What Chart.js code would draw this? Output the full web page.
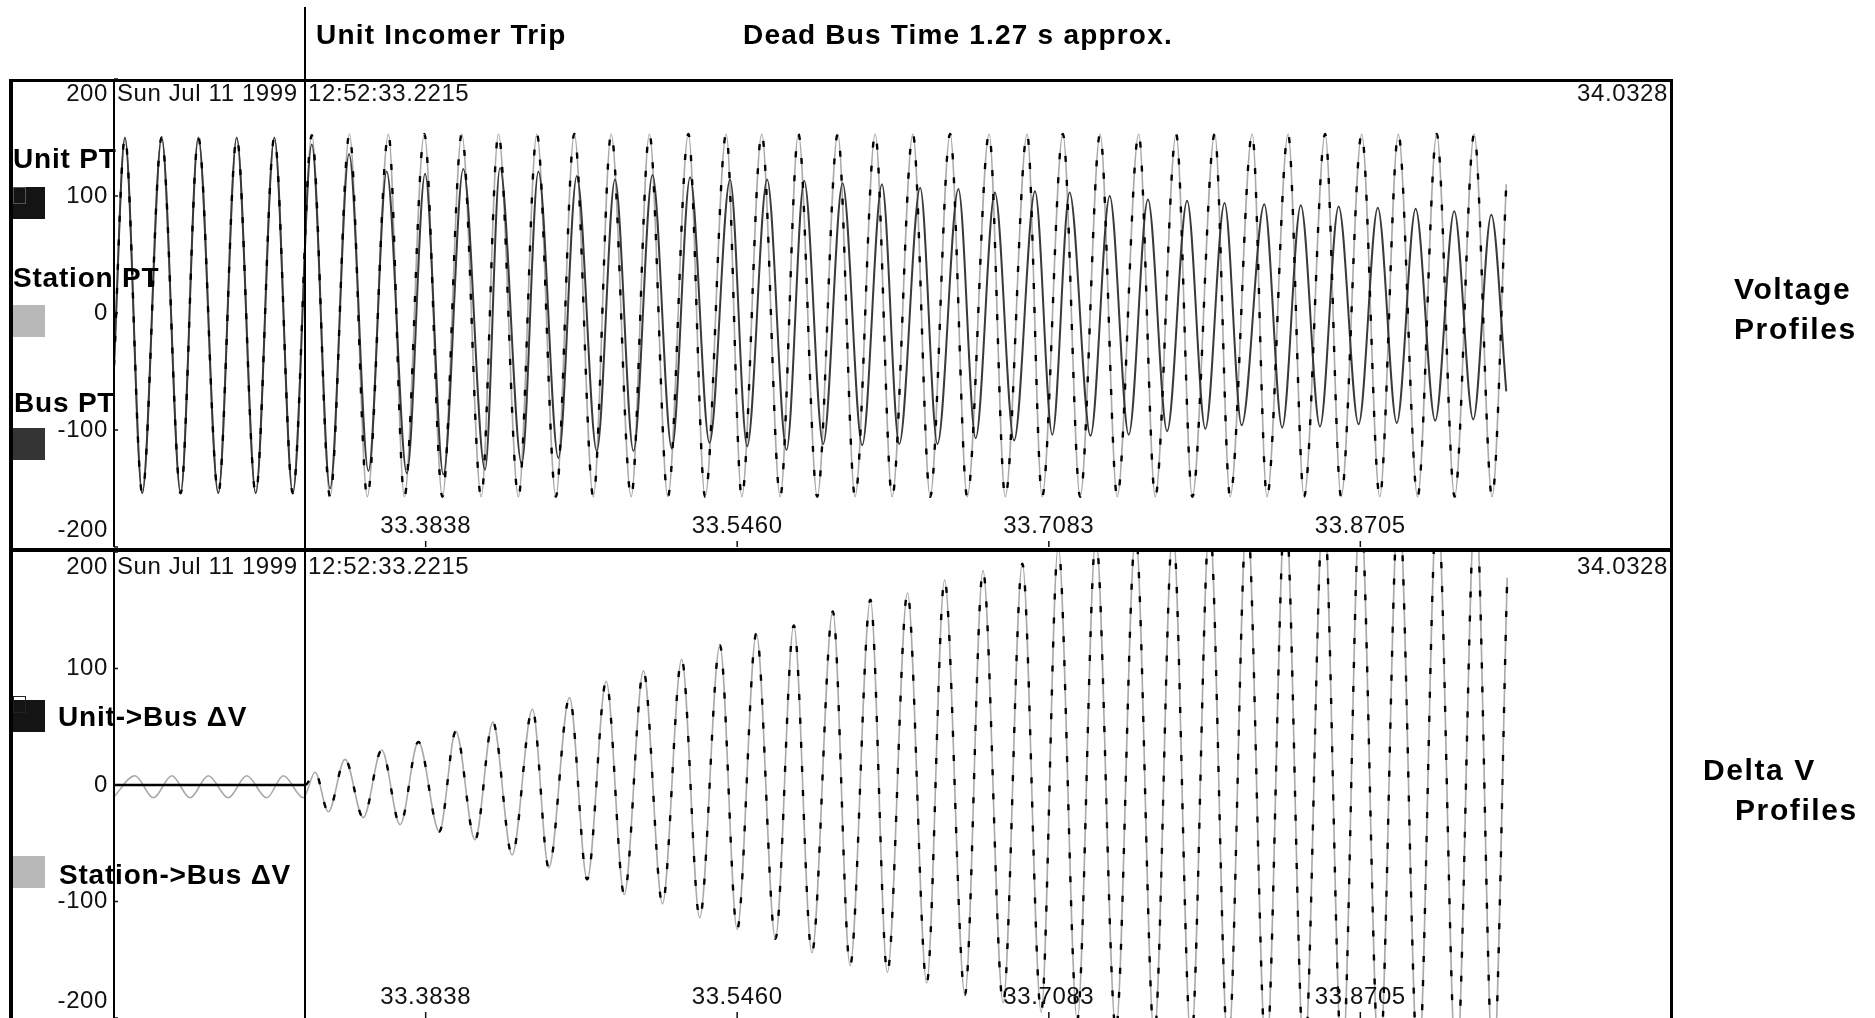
<!DOCTYPE html>
<html>
<head>
<meta charset="utf-8">
<title>Unit Incomer Trip - Dead Bus Time</title>
<script src="https://cdn.jsdelivr.net/npm/chart.js@4.4.1/dist/chart.umd.min.js"></script>
<style>
  body { margin: 0; background: #fff; }
  #page { position: relative; width: 1875px; height: 1018px; overflow: hidden; background: #fff; }
  canvas { position: absolute; left: 0; }
  #voltageChart { top: 0; }
  #deltaChart { top: 550px; }
  .lbl { position: absolute; font: bold 28px "Liberation Sans", Arial, sans-serif; line-height: 28px; letter-spacing: 0.8px; color: #000; white-space: nowrap; }
  .head { letter-spacing: 1.2px; }
  .side { font-size: 30px; line-height: 30px; letter-spacing: 1.6px; }
  .key { position: absolute; width: 32px; height: 32px; }
  .box { position: absolute; width: 11px; height: 15px; border: 1px solid #555; }
</style>
</head>
<body>
<div id="page">
  <canvas id="voltageChart" width="1875" height="550"></canvas>
  <canvas id="deltaChart" width="1875" height="468"></canvas>

  <div class="lbl head" style="left:316px; top:21px;">Unit Incomer Trip</div>
  <div class="lbl head" style="left:743px; top:21px;">Dead Bus Time 1.27 s approx.</div>

  <div class="lbl side" style="left:1734px; top:274px;">Voltage</div>
  <div class="lbl side" style="left:1734px; top:314px;">Profiles</div>
  <div class="lbl side" style="left:1703px; top:755px;">Delta V</div>
  <div class="lbl side" style="left:1735px; top:795px;">Profiles</div>

  <!-- legend, top panel -->
  <div class="lbl" style="left:13px; top:145px;">Unit PT</div>
  <div class="key" style="left:13px; top:187px; background:#141414;"></div>
  <div class="box" style="left:13px; top:187px;"></div>
  <div class="lbl" style="left:13px; top:264px;">Station PT</div>
  <div class="key" style="left:13px; top:305px; background:#b8b8b8;"></div>
  <div class="lbl" style="left:14px; top:389px;">Bus PT</div>
  <div class="key" style="left:13px; top:428px; background:#343434;"></div>

  <!-- legend, bottom panel -->
  <div class="key" style="left:13px; top:700px; background:#141414;"></div>
  <div class="box" style="left:13px; top:696px; border-color:#222;"></div>
  <div class="lbl" style="left:58px; top:703px;">Unit-&gt;Bus &#916;V</div>
  <div class="key" style="left:13px; top:856px; background:#b8b8b8;"></div>
  <div class="lbl" style="left:59px; top:861px;">Station-&gt;Bus &#916;V</div>
</div>

<script>
// time axis (seconds) and labels
const tStart = 33.2215;
const tEnd = 34.0328;
const tripT = 33.321;
const yTicks = [200, 100, 0, -100, -200];
const xTicks = [33.3838, 33.546, 33.7083, 33.8705];
const xTickLabels = ["33.3838", "33.5460", "33.7083", "33.8705"];
const startDate = "Sun Jul 11 1999";
const startTime = "12:52:33.2215";
const endLabel = "34.0328";

// Station PT crests / troughs (Unit PT lies on the same trace)
const stationStart = -45;
const stationEndT = 33.9465;
const stationEnd = 110;
const stationPeakT = [33.2272, 33.2463, 33.2654, 33.2854, 33.305, 33.3245, 33.3441, 33.3644, 33.3831, 33.4026, 33.4217, 33.4417, 33.4612, 33.4804, 33.5003, 33.5206, 33.5403, 33.5588, 33.5779, 33.5984, 33.6179, 33.6375, 33.6569, 33.6772, 33.697, 33.7156, 33.735, 33.7551, 33.7746, 33.7947, 33.8142, 33.8329, 33.8522, 33.8712, 33.8903, 33.9103, 33.9298];
const stationPeakV = [150, 150, 150, 150, 150, 152, 153, 153, 153, 153, 153, 153, 153, 153, 153, 153, 153, 153, 153, 153, 153, 153, 153, 153, 153, 153, 153, 153, 153, 153, 153, 153, 153, 153, 153, 153, 153];
const stationTroughT = [33.2362, 33.2562, 33.2758, 33.2953, 33.3146, 33.334, 33.3534, 33.3727, 33.3925, 33.4127, 33.4321, 33.4516, 33.4711, 33.4908, 33.5099, 33.5293, 33.5484, 33.5684, 33.5877, 33.6074, 33.6267, 33.6465, 33.6658, 33.6856, 33.7048, 33.7246, 33.7439, 33.7637, 33.783, 33.8027, 33.8219, 33.8412, 33.8605, 33.8806, 33.9003, 33.9196, 33.9391];
const stationTroughV = [-154, -154, -154, -154, -154, -157, -157, -157, -157, -157, -157, -157, -157, -157, -157, -157, -157, -157, -157, -157, -157, -157, -157, -157, -157, -157, -157, -157, -157, -157, -157, -157, -157, -157, -157, -157, -157];

// Bus PT after the trip (before it, same as station)
const busPeakT = [33.3245, 33.3439, 33.3635, 33.3835, 33.4034, 33.4225, 33.4425, 33.4625, 33.4824, 33.5019, 33.5215, 33.5423, 33.5616, 33.5809, 33.6009, 33.6214, 33.6413, 33.6612, 33.6802, 33.7011, 33.7191, 33.74, 33.7599, 33.7803, 33.7998, 33.8205, 33.8395, 33.8592, 33.8796, 33.8993, 33.9194, 33.9387];
const busPeakV = [144, 136, 121, 119, 123, 124, 121, 117, 114, 118, 116, 114, 114, 113, 111, 110, 107, 106, 103, 104, 103, 100, 97, 96, 94, 93, 92, 91, 90, 89, 87, 84];
const busTroughT = [33.334, 33.354, 33.374, 33.393, 33.4147, 33.4338, 33.4529, 33.4729, 33.492, 33.512, 33.5316, 33.5512, 33.5717, 33.5908, 33.6111, 33.6304, 33.6503, 33.6702, 33.6902, 33.7101, 33.73, 33.7499, 33.7699, 33.7898, 33.8087, 33.8298, 33.8495, 33.8696, 33.8895, 33.9095, 33.9293];
const busTroughV = [-150, -135, -137, -138, -134, -129, -124, -118, -118, -116, -111, -114, -117, -112, -113, -112, -112, -107, -109, -104, -105, -104, -101, -99, -96, -98, -97, -95, -94, -92, -91];
const busEndT = 33.9465;
const busEnd = -67;

// delta V after the trip (unit and station traces coincide)
const dvPeakT = [33.3262, 33.3418, 33.3609, 33.38, 33.3995, 33.4188, 33.4394, 33.4587, 33.4778, 33.4972, 33.5171, 33.537, 33.556, 33.5755, 33.5958, 33.6154, 33.6347, 33.654, 33.674, 33.6945, 33.7132, 33.7328, 33.7535, 33.7729, 33.792, 33.8115, 33.8315, 33.8514, 33.8705, 33.8905, 33.9106, 33.9305];
const dvPeakV = [11, 22, 30, 37, 46, 54, 65, 75, 89, 98, 108, 120, 130, 137, 149, 159, 165, 176, 184, 190, 205, 212, 216, 220, 226, 234, 240, 244, 245, 246, 246, 246];
const dvTroughT = [33.3331, 33.3513, 33.3705, 33.3909, 33.4095, 33.4288, 33.4479, 33.4679, 33.4872, 33.5071, 33.5265, 33.546, 33.5659, 33.5849, 33.6048, 33.6242, 33.6447, 33.6646, 33.6845, 33.7043, 33.7231, 33.7432, 33.7632, 33.7824, 33.8017, 33.8215, 33.8413, 33.8611, 33.8804, 33.9007, 33.9205, 33.9397];
const dvTroughV = [-23, -28, -34, -40, -47, -60, -71, -81, -94, -102, -114, -124, -132, -144, -155, -161, -170, -180, -187, -195, -202, -210, -216, -222, -228, -234, -238, -242, -244, -245, -246, -246];
const dvEndT = 33.947;
const dvEnd = 178;

// Station->Bus delta V before the trip
const stnDvStart = -10;
const stnDvPeakT = [33.2324, 33.2516, 33.2706, 33.2906, 33.3097];
const stnDvPeakV = [8, 8, 8, 8, 8];
const stnDvTroughT = [33.242, 33.2611, 33.281, 33.301, 33.3201];
const stnDvTroughV = [-11, -11, -11, -11, -11];

function extrema(peakT, peakV, troughT, troughV) {
  const pts = [];
  peakT.forEach((t, i) => pts.push({ x: t, y: peakV[i] }));
  troughT.forEach((t, i) => pts.push({ x: t, y: troughV[i] }));
  return pts.sort((a, b) => a.x - b.x);
}

const stationPts = [{ x: tStart, y: stationStart }]
  .concat(extrema(stationPeakT, stationPeakV, stationTroughT, stationTroughV))
  .concat([{ x: stationEndT, y: stationEnd }]);
const unitPts = stationPts.slice();
const busPts = stationPts.filter((p) => p.x < tripT)
  .concat(extrema(busPeakT, busPeakV, busTroughT, busTroughV))
  .concat([{ x: busEndT, y: busEnd }]);

const dvPost = extrema(dvPeakT, dvPeakV, dvTroughT, dvTroughV).concat([{ x: dvEndT, y: dvEnd }]);
const unitDvPts = [{ x: tStart, y: 0 }, { x: tripT, y: 0 }].concat(dvPost);
const stationDvPts = [{ x: tStart, y: stnDvStart }]
  .concat(extrema(stnDvPeakT, stnDvPeakV, stnDvTroughT, stnDvTroughV))
  .concat(dvPost);

// frame, axis, cursor and tick text for one panel
const FONT = '24px "Liberation Sans", Arial, sans-serif';
function decor(isTop) {
  return {
    id: "decor",
    afterDraw(chart) {
      const c = chart.ctx;
      const a = chart.chartArea;
      const xs = chart.scales.x;
      const ys = chart.scales.y;
      const H = chart.height;
      const tripX = Math.round(xs.getPixelForValue(tripT));
      const frameTop = isTop ? 79 : 0;
      c.save();
      c.fillStyle = "#000";
      c.fillRect(9, frameTop, 4, H - frameTop);
      c.fillRect(1670, frameTop, 3, H - frameTop);
      if (isTop) {
        c.fillRect(9, 79, 1664, 3);
        c.fillRect(9, H - 2, 1664, 2);
      } else {
        c.fillRect(9, 0, 1664, 2);
      }
      c.fillRect(a.left - 1, a.top, 2, a.height);
      c.fillRect(tripX - 1, isTop ? 7 : 0, 2, isTop ? H - 7 : H);

      c.font = FONT;
      c.letterSpacing = "0.6px";
      c.fillStyle = "#111";
      c.textAlign = "right";
      c.textBaseline = "middle";
      yTicks.forEach((v) => {
        const py = ys.getPixelForValue(v);
        c.fillRect(a.left, py - 0.75, 4, 1.5);
        let ly = py;
        if (v === ys.max) ly = py + 15;
        if (v === ys.min) ly = py - 17;
        c.fillText(String(v), a.left - 6, ly);
      });
      c.textAlign = "center";
      xTicks.forEach((t, i) => {
        const px = xs.getPixelForValue(t);
        c.fillRect(px - 0.75, a.bottom - 6, 1.5, 6);
        c.fillText(xTickLabels[i], px, a.bottom - 21);
      });
      c.textAlign = "left";
      c.fillText(startDate, a.left + 3, a.top + 15);
      c.fillText(startTime, tripX + 3, a.top + 15);
      c.textAlign = "right";
      c.fillText(endLabel, a.right - 4, a.top + 15);
      c.restore();
    },
  };
}

function panelOptions(padTop, padBottom) {
  return {
    responsive: false,
    animation: false,
    devicePixelRatio: 1,
    events: [],
    layout: { padding: { left: 114, right: 203, top: padTop, bottom: padBottom } },
    elements: {
      point: { radius: 0 },
      line: { cubicInterpolationMode: "monotone", fill: false },
    },
    scales: {
      x: { type: "linear", display: false, min: tStart, max: tEnd },
      y: { type: "linear", display: false, min: -200, max: 200 },
    },
    plugins: { legend: { display: false }, tooltip: { enabled: false } },
  };
}

// Voltage profiles
const voltageCtx = document.getElementById("voltageChart").getContext("2d");
const voltageChart = new Chart(voltageCtx, {
  type: "line",
  data: {
    datasets: [
      { label: "Unit PT", data: unitPts, borderColor: "#000", borderWidth: 2.4, borderDash: [6, 18], order: 0 },
      { label: "Bus PT", data: busPts, borderColor: "#3a3a3a", borderWidth: 2, order: 1 },
      { label: "Station PT", data: stationPts, borderColor: "#a9a9a9", borderWidth: 1.6, order: 2 },
    ],
  },
  options: panelOptions(79, 3),
  plugins: [decor(true)],
});

// Delta V profiles
const deltaCtx = document.getElementById("deltaChart").getContext("2d");
const deltaChart = new Chart(deltaCtx, {
  type: "line",
  data: {
    datasets: [
      {
        label: "Unit->Bus \u0394V",
        data: unitDvPts,
        borderColor: "#000",
        borderWidth: 2.4,
        order: 0,
        segment: {
          borderDash: (s) => (s.p0.parsed.y === 0 && s.p1.parsed.y === 0 ? [] : [6, 18]),
        },
      },
      { label: "Station->Bus \u0394V", data: stationDvPts, borderColor: "#a9a9a9", borderWidth: 1.6, order: 1 },
    ],
  },
  options: panelOptions(2, 0),
  plugins: [decor(false)],
});
</script>
</body>
</html>
